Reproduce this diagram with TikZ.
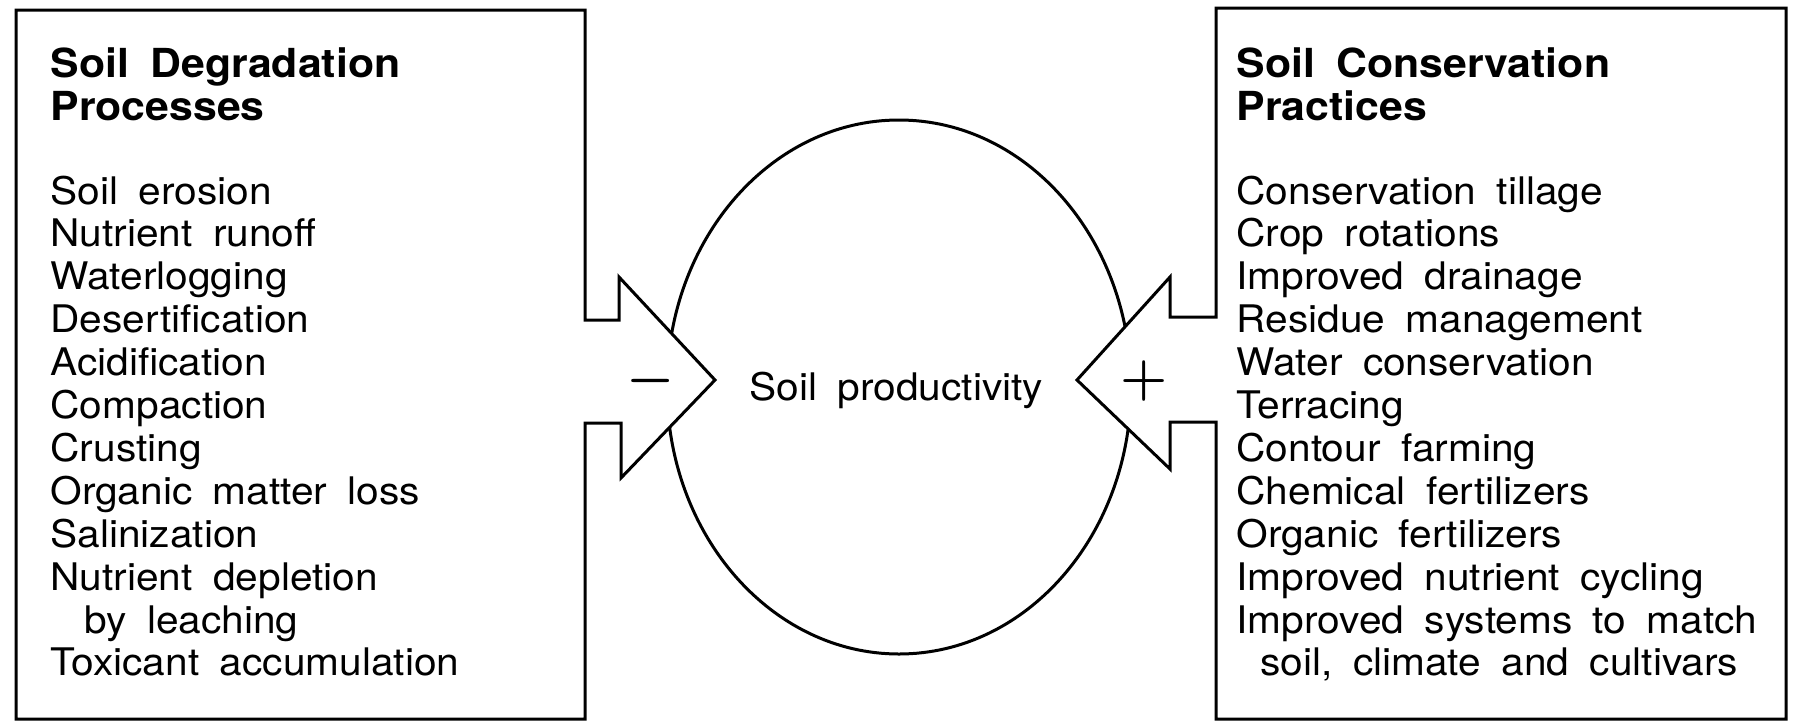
\documentclass[tikz,border=0pt]{standalone}
\usepackage{fix-cm}
\usepackage{fontspec}
\setmainfont{TeX Gyre Heros}[FakeStretch=1.07, WordSpace=1.8]
\usetikzlibrary{shapes.geometric}
\begin{document}
\begin{tikzpicture}[x=0.5pt,y=-0.5pt, line width=1.5pt, line join=miter,
  body/.style={anchor=base west, inner sep=0pt, font=\fontsize{19}{21}\selectfont},
  heading/.style={anchor=base west, inner sep=0pt, font=\fontsize{20}{22}\selectfont\bfseries},
  sign/.style={inner sep=0pt, font=\fontsize{27}{27}\selectfont\boldmath},
  outline/.style={draw=black, fill=white, line width=1.5pt}]
\useasboundingbox (0,0) rectangle (1795,723);
\fill[white] (0,0) rectangle (1795,723);

% ellipse (drawn first so the arrow heads cover it)
\node[ellipse, draw, line width=1.5pt, minimum width=232pt, minimum height=267pt, inner sep=0pt] (prod) at (899,387) {};

% left box with arrow
\draw[outline] (16,10) -- (585,10) -- (585,320) -- (619,320) -- (619,277) -- (715,380)
  -- (621,478) -- (621,423) -- (585,423) -- (585,719) -- (16,719) -- cycle;
% right box with arrow
\draw[outline] (1216,8) -- (1786,8) -- (1786,719) -- (1216,719) -- (1216,422) -- (1170,422)
  -- (1170,469) -- (1077,380) -- (1170,277) -- (1170,317) -- (1216,317) -- cycle;

\node[body] (prodtext) at (748,400) {Soil productivity};

\node[sign] (minus) at (651,381) {$-$};
\node[sign] (plus) at (1144,381) {$+$};

% left texts
\node[heading] (lt1) at (49,77) {Soil Degradation};
\node[heading] (lt2) at (49,120) {Processes};
\foreach \t [count=\i from 0] in {Soil erosion, Nutrient runoff, Waterlogging, Desertification,
  Acidification, Compaction, Crusting, Organic matter loss, Salinization, Nutrient depletion,
  {\hspace*{17pt}by leaching}, Toxicant accumulation}
  \node[body] (l\i) at (49,204+42.9*\i) {\t};

% right texts
\node[heading] (rt1) at (1235,77) {Soil Conservation};
\node[heading] (rt2) at (1235,120) {Practices};
\foreach \t [count=\i from 0] in {Conservation tillage, Crop rotations, Improved drainage,
  Residue management, Water conservation, Terracing, Contour farming, Chemical fertilizers,
  Organic fertilizers, Improved nutrient cycling, Improved systems to match,
  {\hspace*{12pt}soil, climate and cultivars}}
  \node[body] (r\i) at (1235,204+42.9*\i) {\t};
\end{tikzpicture}
\end{document}
